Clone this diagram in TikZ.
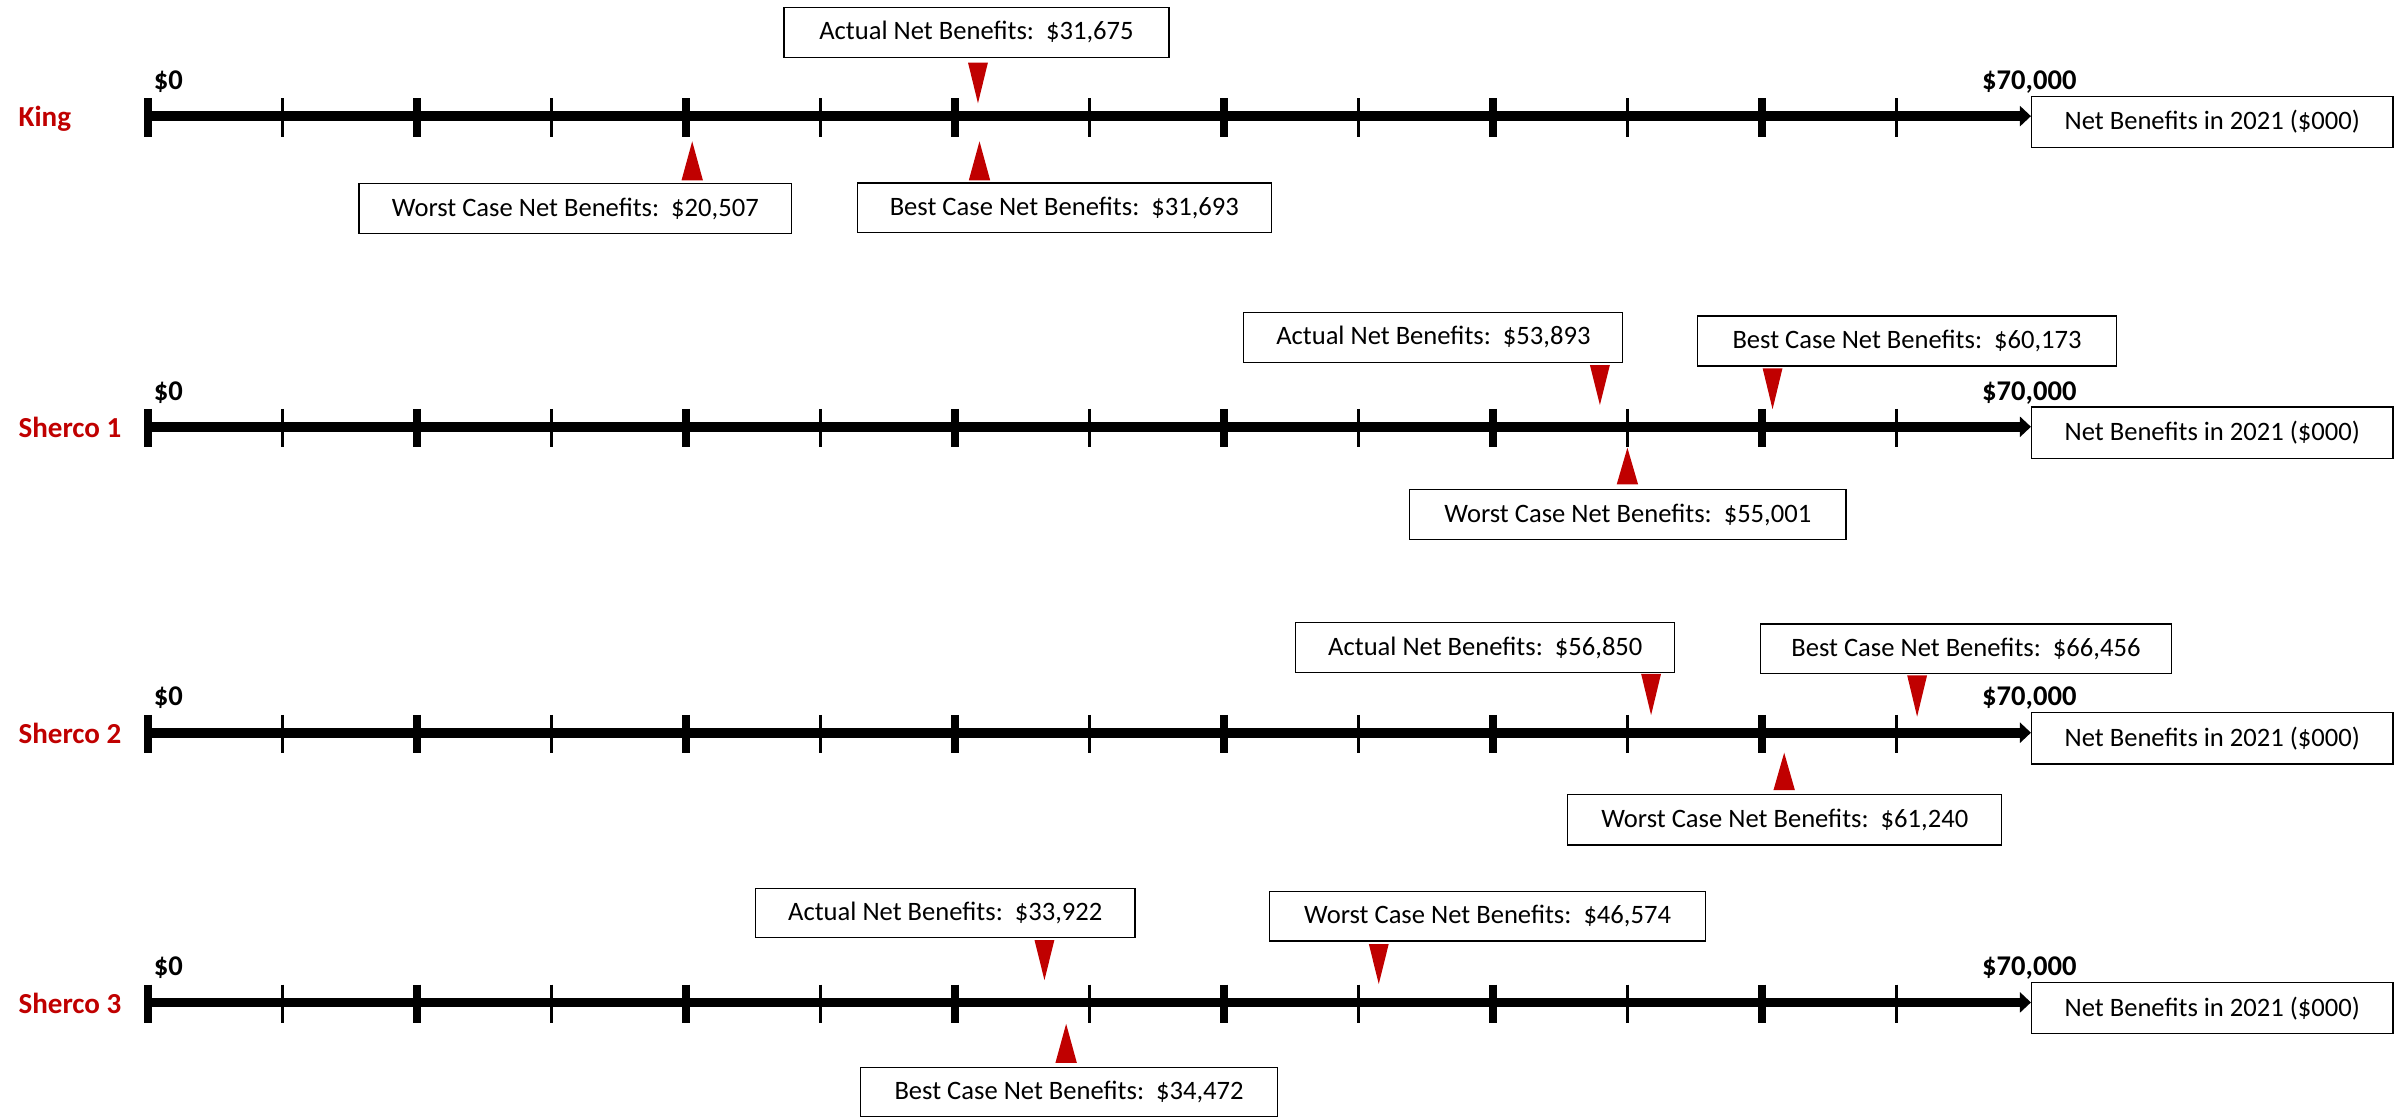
\documentclass[tikz,border=0pt]{standalone}
\usepackage{fontspec}
\setmainfont{Carlito}
\usetikzlibrary{arrows.meta}
\definecolor{darkred}{HTML}{C00000}
\newcommand\axisrow[3]{%
  \node[rowname] (#1name) at (12,#2+7) {#3};
  \node[endval] (#1zero) at (100.5,#2-17.5) {\$0};
  \node[endval] (#1max) at (1297,#2-17.5) {\$70,000};
  \node[lbl, minimum width=236.5pt, minimum height=33.5pt] (#1net) at (1447.75,#2+3.75) {Net Benefits in 2021 (\$000)};
  \coordinate (#1start) at (97,#2);
  \draw[axisline] (#1start) -- (#1start -| #1net.west);
  \foreach \k in {0,...,6} {\draw[majortick] (97+176*\k,#2-11.7) -- (97+176*\k,#2+13.5);}
  \foreach \k in {0,...,6} {\draw[minortick] (185+176*\k,#2-11.7) -- (185+176*\k,#2+13.5);}
}
\newcommand\mkdown[3]{\fill[mk] (#1-6.5,#2) -- (#1+6.5,#2) -- (#1,#3) -- cycle;}
\newcommand\mkup[3]{\fill[mk] (#1-7,#3) -- (#1+7,#3) -- (#1,#2) -- cycle;}
\begin{document}
\begin{tikzpicture}[x=1pt,y=-1pt,
  lbl/.style={font=\fontsize{17.4}{20}\selectfont, draw=black, line width=0.8pt, fill=white, inner sep=0pt, align=center},
  rowname/.style={font=\fontsize{19}{22}\selectfont\bfseries, text=darkred, anchor=base west, inner sep=0pt},
  endval/.style={font=\fontsize{18.7}{22}\selectfont\bfseries, anchor=base west, inner sep=0pt},
  axisline/.style={line width=6.3pt, -{Triangle[length=7.2pt,width=13pt]}},
  majortick/.style={line width=5.4pt},
  minortick/.style={line width=2.3pt},
  mk/.style={fill=darkred}
]
\useasboundingbox (0,0) rectangle (1568,731);

% King
\axisrow{k}{76}{King}
\node[lbl, minimum width=252pt, minimum height=32.4pt] (ka) at (639,21.2) {Actual Net Benefits:~~\$31,675};
\node[lbl, minimum width=283pt, minimum height=33pt] (kw) at (376.5,136.5) {Worst Case Net Benefits:~~\$20,507};
\node[lbl, minimum width=271pt, minimum height=32.5pt] (kb) at (696.5,136) {Best Case Net Benefits:~~\$31,693};
\mkdown{640}{41}{67.6}
\mkup{453}{92.5}{118}
\mkup{641}{92.5}{118}

% Sherco 1
\axisrow{a}{279.3}{Sherco 1}
\node[lbl, minimum width=248pt, minimum height=32.4pt] (aa) at (938,220.8) {Actual Net Benefits:~~\$53,893};
\node[lbl, minimum width=274pt, minimum height=32.7pt] (ab) at (1248,223.2) {Best Case Net Benefits:~~\$60,173};
\node[lbl, minimum width=285.4pt, minimum height=32.5pt] (aw) at (1065.3,336.8) {Worst Case Net Benefits:~~\$55,001};
\mkdown{1047}{239}{265}
\mkdown{1160}{241}{267.8}
\mkup{1065}{293}{317}

% Sherco 2
\axisrow{b}{479.5}{Sherco 2}
\node[lbl, minimum width=248pt, minimum height=32.5pt] (ba) at (972,423.75) {Actual Net Benefits:~~\$56,850};
\node[lbl, minimum width=269pt, minimum height=32.6pt] (bb) at (1286.5,424.7) {Best Case Net Benefits:~~\$66,456};
\node[lbl, minimum width=284pt, minimum height=33pt] (bw) at (1168,536.5) {Worst Case Net Benefits:~~\$61,240};
\mkdown{1080.5}{441}{468}
\mkdown{1254.6}{442}{469}
\mkup{1167.6}{492.6}{517}

% Sherco 3
\axisrow{c}{656}{Sherco 3}
\node[lbl, minimum width=248.3pt, minimum height=32.3pt] (ca) at (618.6,597.5) {Actual Net Benefits:~~\$33,922};
\node[lbl, minimum width=285.5pt, minimum height=32.2pt] (cw) at (973.5,599.7) {Worst Case Net Benefits:~~\$46,574};
\node[lbl, minimum width=272.8pt, minimum height=32.3pt] (cb) at (699.6,714.6) {Best Case Net Benefits:~~\$34,472};
\mkdown{683.5}{615.2}{641.4}
\mkdown{902.3}{617.8}{644}
\mkup{697.7}{670}{695.5}
\end{tikzpicture}
\end{document}
